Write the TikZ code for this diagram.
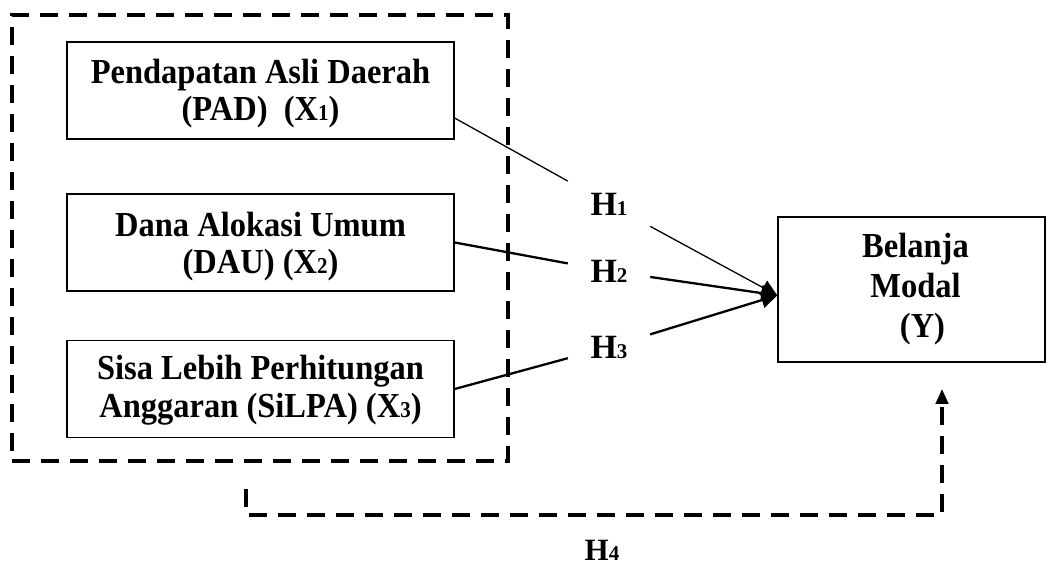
\documentclass[tikz,border=0pt]{standalone}
\usepackage{fontspec}
\setmainfont{Liberation Serif}
\usetikzlibrary{arrows.meta,calc}
\newcommand\idx[1]{{\fontsize{21}{21}\selectfont #1}}
\newcommand\tallt[1]{\scalebox{1}[1.08]{\begin{tabular}{@{}c@{}}#1\end{tabular}}}
\begin{document}
\begin{tikzpicture}[x=1pt,y=-1pt,
  every node/.style={font=\fontsize{32.5}{35}\selectfont\bfseries},
  varbox/.style={draw, line width=1.5pt, minimum width=387pt, minimum height=97pt, inner sep=0pt},
  boxtext/.style={inner sep=0pt, yshift=-4pt},
  ybox/.style={draw, line width=1.5pt, minimum width=267pt, minimum height=145pt, inner sep=0pt},
  ytext/.style={inner sep=0pt, font=\fontsize{32.5}{37}\selectfont\bfseries},
  hnode/.style={minimum width=82pt, minimum height=50pt, inner sep=0pt, font=\fontsize{34}{40}\selectfont\bfseries},
  hfree/.style={inner sep=0pt, font=\fontsize{31}{34}\selectfont\bfseries},
  thinlink/.style={line width=1.3pt},
  thicklink/.style={line width=2.3pt},
  grpdash/.style={line width=4pt, dash pattern=on 18pt off 11pt},
  tiparrow/.style={-{Triangle[length=16pt,width=16pt]}},
  uparrow/.style={-{Triangle[length=15pt,width=12pt]}}
]
\useasboundingbox (0,0) rectangle (1057,567);
% dashed group
\node[draw, grpdash, minimum width=496pt, minimum height=446pt, inner sep=0pt] (grp) at (260,238) {};
% variable boxes
\node[varbox, label={[boxtext]center:\tallt{Pendapatan Asli Daerah\\(PAD)~~(X\idx{1})}}] (b1) at (260.5,90.5) {};
\node[varbox, label={[boxtext, yshift=-1pt]center:\tallt{Dana Alokasi Umum\\(DAU) (X\idx{2})}}] (b2) at (260.5,242.5) {};
\node[varbox, label={[boxtext, yshift=2pt]center:\tallt{Sisa Lebih Perhitungan\\Anggaran (SiLPA) (X\idx{3})}}] (b3) at (260.5,389) {};
\node[ybox, label={[ytext]center:\tallt{\hspace*{8pt}Belanja\\\hspace*{8pt}Modal\\\hspace*{22pt}(Y)}}] (yb) at (911.5,289.5) {};
% hypothesis labels
\node[hnode] (h1) at (609,204) {H\idx{1}};
\node[hnode] (h2) at (609,271) {H\idx{2}};
\node[hnode] (h3) at (609,347) {H\idx{3}};
\node[hfree] (h4) at (602,550) {H\idx{4}};
% anchor points
\coordinate (s1) at ($(b1.south east)!0.22!(b1.north east)$);
\coordinate (tip) at ($(yb.south west)!0.46!(yb.north west)$);
% connectors
\draw[thinlink] (s1) -- (h1);
\draw[thicklink] (b2.east) -- (h2);
\draw[thicklink] (b3.east) -- (h3);
\draw[thinlink, tiparrow] (h1) -- (tip);
\draw[thicklink, tiparrow] (h2) -- (tip);
\draw[thicklink, tiparrow] (h3) -- (tip);
% H4 dashed path
\coordinate (d0) at (246,489);
\coordinate (d1) at (246,515);
\coordinate (yin) at ($(yb.south)+(30.5,26)$);
\draw[grpdash, uparrow] (d0) -- (d1) -| (yin);
\end{tikzpicture}
\end{document}
